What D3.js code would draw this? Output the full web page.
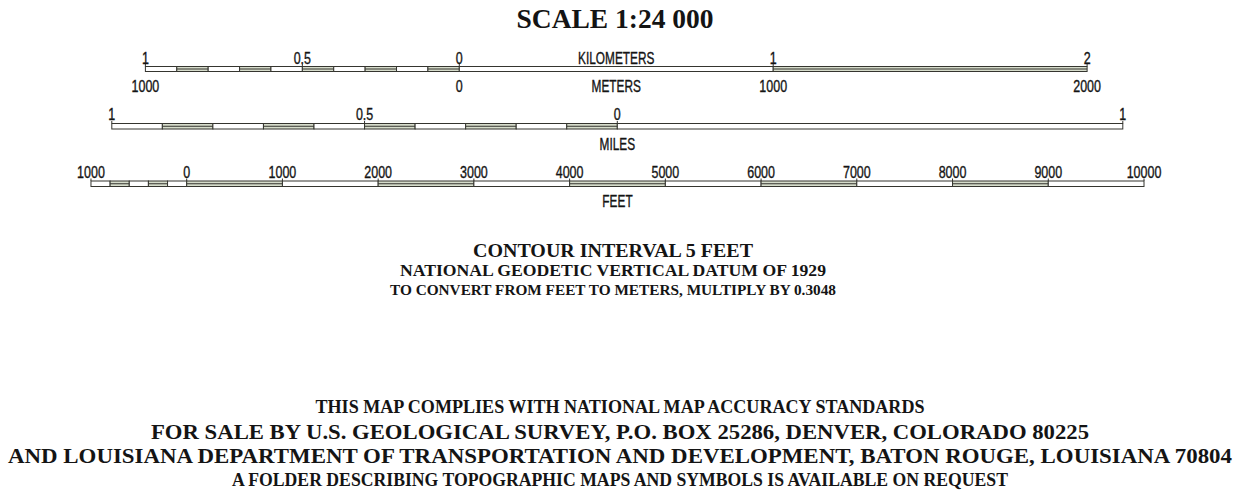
<!DOCTYPE html>
<html>
<head>
<meta charset="utf-8">
<script src="https://cdn.jsdelivr.net/npm/d3@7"></script>
<style>
html,body{margin:0;padding:0;background:#fff;}
svg{display:block;}
</style>
</head>
<body>
<svg id="chart" width="1254" height="494"></svg>
<script>
// ---- data ----
const title = "SCALE 1:24 000";
const kmBreaks = [-1,-0.9,-0.8,-0.7,-0.6,-0.5,-0.4,-0.3,-0.2,-0.1,0,1,2];
const kmTicks = [-1,-0.5,0,1,2];
const kmTickLabels = ["1","0.5","0","1","2"];
const meterTicks = [-1000,0,1000,2000];
const meterTickLabels = ["1000","0","1000","2000"];
const mileBreaks = [-1,-0.9,-0.8,-0.7,-0.6,-0.5,-0.4,-0.3,-0.2,-0.1,0,1];
const mileTicks = [-1,-0.5,0,1];
const mileTickLabels = ["1","0.5","0","1"];
const feetBreaks = [-1000,-800,-600,-400,-200,0,1000,2000,3000,4000,5000,6000,7000,8000,9000,10000];
const feetTicks = [-1000,0,1000,2000,3000,4000,5000,6000,7000,8000,9000,10000];
const feetTickLabels = ["1000","0","1000","2000","3000","4000","5000","6000","7000","8000","9000","10000"];
const unitNames = ["KILOMETERS","METERS","MILES","FEET"];
const midLines = ["CONTOUR INTERVAL 5 FEET","NATIONAL GEODETIC VERTICAL DATUM OF 1929","TO CONVERT FROM FEET TO METERS, MULTIPLY BY 0.3048"];
const bottomLines = ["THIS MAP COMPLIES WITH NATIONAL MAP ACCURACY STANDARDS",
 "FOR SALE BY U.S. GEOLOGICAL SURVEY, P.O. BOX 25286, DENVER, COLORADO 80225",
 "AND LOUISIANA DEPARTMENT OF TRANSPORTATION AND DEVELOPMENT, BATON ROUGE, LOUISIANA 70804",
 "A FOLDER DESCRIBING TOPOGRAPHIC MAPS AND SYMBOLS IS AVAILABLE ON REQUEST"];

// ---- scales ----
const xKm = d3.scaleLinear().domain([0,2]).range([459.3,1087.1]);
const xM = d3.scaleLinear().domain([0,2000]).range([459.3,1087.1]);
const xMi = d3.scaleLinear().domain([0,1]).range([617.3,1122.8]);
const xFt = d3.scaleLinear().domain([0,10000]).range([186.7,1144]);

const svg = d3.select("#chart");
const ink = "#141414";
const barStroke = "#35352f";
const labFont = "'Liberation Sans', Arial, sans-serif";
const serif = "'Liberation Serif', 'Times New Roman', serif";

function condText(g, x, y, txt, size, sx){
  g.append("text")
   .attr("transform", `translate(${x},${y}) scale(${sx||0.78},1)`)
   .attr("text-anchor","middle")
   .attr("font-family", labFont)
   .attr("font-size", size||16)
   .attr("fill", ink)
   .attr("stroke", ink).attr("stroke-width", 0.35)
   .text(txt);
}

function bar(breaks, scale, y0, h){
  const g = svg.append("g");
  const segs = d3.pairs(breaks).map((p,i)=>({a:p[0], b:p[1], dbl: i%2===1}));
  g.selectAll("rect.seg").data(segs).join("rect")
    .attr("x", d=>scale(d.a)).attr("y", y0)
    .attr("width", d=>scale(d.b)-scale(d.a)).attr("height", h)
    .attr("fill", d=>d.dbl ? "#d6dccb" : "#ffffff")
    .attr("stroke", barStroke).attr("stroke-width", 1);
  g.selectAll("line.mid").data(segs.filter(d=>d.dbl)).join("line")
    .attr("x1", d=>scale(d.a)).attr("x2", d=>scale(d.b))
    .attr("y1", y0+h/2).attr("y2", y0+h/2)
    .attr("stroke", barStroke).attr("stroke-width", 1);
  return g;
}
function ticks(vals, scale, y0){
  svg.append("g").selectAll("line").data(vals).join("line")
    .attr("x1", d=>scale(d)).attr("x2", d=>scale(d))
    .attr("y1", y0-2.5).attr("y2", y0)
    .attr("stroke", barStroke).attr("stroke-width", 1);
}
function serifLine(x, y, txt, size, len){
  svg.append("text").attr("x",x).attr("y",y).attr("text-anchor","middle")
    .attr("font-family", serif).attr("font-weight","bold").attr("font-size",size)
    .attr("textLength", len).attr("lengthAdjust","spacingAndGlyphs")
    .attr("fill", ink).text(txt);
}

// title
serifLine(615, 27.5, title, 28, 197);

// kilometers bar
bar(kmBreaks, xKm, 66.5, 5);
ticks(kmTicks, xKm, 66.5);
const gl = svg.append("g");
kmTicks.forEach((v,i)=>condText(gl, xKm(v), 63.5, kmTickLabels[i]));
condText(gl, xKm(0.5), 63.5, unitNames[0], 16, 0.74);
meterTicks.forEach((v,i)=>condText(gl, xM(v), 92, meterTickLabels[i]));
condText(gl, xM(500), 92, unitNames[1], 16, 0.74);

// miles bar
bar(mileBreaks, xMi, 123.5, 5.5);
ticks(mileTicks, xMi, 123.5);
mileTicks.forEach((v,i)=>condText(gl, xMi(v), 120, mileTickLabels[i]));
condText(gl, xMi(0), 150, unitNames[2], 16, 0.74);

// feet bar
bar(feetBreaks, xFt, 181, 5.5);
ticks(feetTicks, xFt, 181);
feetTicks.forEach((v,i)=>condText(gl, xFt(v), 178, feetTickLabels[i]));
condText(gl, xFt(4500), 207, unitNames[3], 16, 0.74);

// middle text
const midY = [256.5, 276, 294.5];
const midSize = [19.5, 17, 14.5];
const midLen = [280, 426, 446];
midLines.forEach((t,i)=>serifLine(613, midY[i], t, midSize[i], midLen[i]));

// bottom text
const botY = [413, 438.5, 462.5, 486];
const botSize = [18, 20.5, 20.5, 18];
const botLen = [609, 938, 1224, 776];
bottomLines.forEach((t,i)=>serifLine(620, botY[i], t, botSize[i], botLen[i]));
</script>
</body>
</html>
